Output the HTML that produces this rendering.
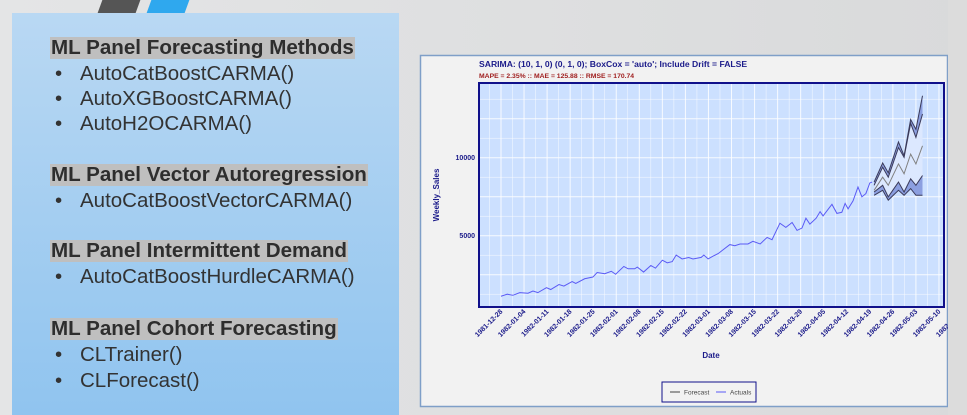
<!DOCTYPE html>
<html><head><meta charset="utf-8"><style>
body{margin:0;width:967px;height:415px;overflow:hidden;background:linear-gradient(90deg,#e4e5e6,#d9dadb);font-family:"Liberation Sans",sans-serif;position:relative}
.panel{position:absolute;left:12px;top:13px;width:387px;height:402px;background:linear-gradient(180deg,#b9d8f3,#90c4ef)}
.h{position:absolute;left:38px;background:#bfbfbf;color:#2e2e2e;font-weight:bold;font-size:20.6px;line-height:22px;padding:0 1px;white-space:nowrap}
.li{position:absolute;left:43px;color:#333;font-size:20.5px;line-height:22px;white-space:nowrap}
.li span{position:absolute;left:25px}
</style></head><body>
<div style="position:absolute;left:100px;top:0;width:38px;height:13px;background:#555;transform:skewX(-20deg)"></div>
<div style="position:absolute;left:149px;top:0;width:38px;height:13px;background:#2fa8ee;transform:skewX(-20deg)"></div>
<div class="panel">
<div class="h" style="top:24px">ML Panel Forecasting Methods</div>
<div class="li" style="top:50px">•<span>AutoCatBoostCARMA()</span></div>
<div class="li" style="top:75px">•<span>AutoXGBoostCARMA()</span></div>
<div class="li" style="top:100px">•<span>AutoH2OCARMA()</span></div>
<div class="h" style="top:151px">ML Panel Vector Autoregression</div>
<div class="li" style="top:177px">•<span>AutoCatBoostVectorCARMA()</span></div>
<div class="h" style="top:227px">ML Panel Intermittent Demand</div>
<div class="li" style="top:253px">•<span>AutoCatBoostHurdleCARMA()</span></div>
<div class="h" style="top:305px">ML Panel Cohort Forecasting</div>
<div class="li" style="top:331px">•<span>CLTrainer()</span></div>
<div class="li" style="top:357px">•<span>CLForecast()</span></div>
</div>
<svg id="chart" style="position:absolute;left:0;top:0" width="967" height="415"></svg>
<script>
const actDays=[0,1.9,3.6,5.7,8.2,9.7,11.2,13.8,15.1,17.6,19.1,21.6,22.7,25.4,27.9,29.2,31.5,33.5,34.8,37.3,38.6,40.6,41.4,43.3,45.5,46.9,49,50.5,52,53.2,55,57,58.3,60.8,61.6,62.9,64.5,66,67.5,69.5,71,72.6,75,76.5,78.7,80.8,82.3,84.7,86.5,88.4,89.9,91.4,92.6,93.8,95.7,96.9,97.8,100.5,102,103.5,104.5,105.4,106.9,108.4,109.6,110.8,112,112.7];
const actVals=[1120,1250,1180,1350,1310,1450,1350,1670,1550,1870,1770,2060,1940,2240,2350,2640,2560,2720,2530,3030,2880,2880,2990,2670,3090,2920,3430,3260,3340,3760,3510,3600,3510,3610,3760,3510,3700,3860,4110,4430,4360,4470,4470,4640,4470,4890,4740,5800,5530,5850,5340,5490,6120,5740,6120,6540,6270,7010,6430,6500,7070,6720,7230,8120,7490,7700,8380,8440];
const fcDays=[113.3,115.9,117.6,120.7,122.4,124.4,126,128];
const fcMean=[7910,8750,8230,9600,8970,10230,9600,10760];
const fcUp95=[8440,9660,9030,11010,10130,12450,11820,13970];
const fcUp80=[8230,9390,8750,10650,10020,12200,11300,12800];
const fcLo80=[7800,8230,7490,8440,7800,8650,8230,8860];
const fcLo95=[7590,7910,7280,7910,7590,8020,7590,7590];
const xTickLabels=["1981-12-28","1982-01-04","1982-01-11","1982-01-18","1982-01-25","1982-02-01","1982-02-08","1982-02-15","1982-02-22","1982-03-01","1982-03-08","1982-03-15","1982-03-22","1982-03-29","1982-04-05","1982-04-12","1982-04-19","1982-04-26","1982-05-03","1982-05-10","1982-05-17"];
const yTicks=[5000,10000];
const yGrid=[2500,5000,7500,10000,12500];

const NS="http://www.w3.org/2000/svg";
const svg=document.getElementById('chart');
const PL=479,PR=944,PT=83,PB=307;
const X=d=>501+d*3.293;
const Y=v=>313.7-v*(78/5000);
const navy="#1b1b8a";
function el(t,a,p){const e=document.createElementNS(NS,t);for(const k in a)e.setAttribute(k,a[k]);(p||svg).appendChild(e);return e;}
function txt(s,a,p){const e=el('text',a,p);e.textContent=s;return e;}
const frame=el('rect',{x:420.5,y:55.5,width:527,height:351,fill:'#f2f2f2',stroke:'#7f9fc8','stroke-width':1.5});


const plot=el('rect',{x:PL,y:PT,width:PR-PL,height:PB-PT,fill:'#cce0ff'});


const g=el('g',{});


for(let d=-7;d<=140;d+=3.5){const x=X(d);if(x>PL&&x<PR){el('line',{x1:x,x2:x,y1:PT,y2:PB,stroke:'#fff','stroke-width':(Math.round(d/3.5)%2===0)?1:0.5,opacity:0.85},g);}}
for(let v=1250;v<15000;v+=1250){const y=Y(v);if(y>PT&&y<PB){el('line',{x1:PL,x2:PR,y1:y,y2:y,stroke:'#fff','stroke-width':yGrid.includes(v)?1:0.5,opacity:0.85},g);}}
function pts(ds,vs){return ds.map((d,i)=>X(d)+','+Y(vs[i])).join(' ');}
function band(up,lo,fill,name){const p=el('polygon',{points:pts(fcDays,up)+' '+pts(fcDays.slice().reverse(),lo.slice().reverse()),fill:fill});}
band(fcUp95,fcLo95,'#8c9fe0','forecast-band-95');
band(fcUp80,fcLo80,'#dce8ff','forecast-band-80');
[[fcUp95,'upper-95-line'],[fcUp80,'upper-80-line'],[fcLo80,'lower-80-line'],[fcLo95,'lower-95-line']].forEach(([arr,n])=>{const l=el('polyline',{points:pts(fcDays,arr),fill:'none',stroke:'#3a3a5a','stroke-width':1});});
const fm=el('polyline',{points:pts(fcDays,fcMean),fill:'none',stroke:'#808080','stroke-width':1});


const al=el('polyline',{points:pts(actDays,actVals),fill:'none',stroke:'#5a5af5','stroke-width':1});


const border=el('rect',{x:PL,y:PT,width:PR-PL,height:PB-PT,fill:'none',stroke:'#10108a','stroke-width':2});


yTicks.forEach(v=>{const t=txt(v,{x:PL-4,y:Y(v)+2.5,'text-anchor':'end','font-size':7,'font-weight':'bold',fill:navy});});
xTickLabels.forEach((s,i)=>{const x=X(i*7);const t=txt(s,{x:x+2,y:PB+5,'text-anchor':'end','font-size':7,'font-weight':'bold',fill:navy,transform:`rotate(-45 ${x+2} ${PB+5})`});});
const cl=el('rect',{x:948,y:0,width:19,height:415,fill:'#dcdcdc'});


const t1=txt("SARIMA: (10, 1, 0) (0, 1, 0); BoxCox = 'auto'; Include Drift = FALSE",{x:479,y:67,'font-size':8.6,'font-weight':'bold',fill:navy});


const t2=txt("MAPE = 2.35% :: MAE = 125.88 :: RMSE = 170.74",{x:479,y:78,'font-size':6.8,'font-weight':'bold',fill:'#a02020'});


const yt=txt("Weekly_Sales",{x:439,y:195,'text-anchor':'middle','font-size':8,'font-weight':'bold',fill:navy,transform:'rotate(-90 439 195)'});


const xt=txt("Date",{x:711,y:358,'text-anchor':'middle','font-size':8,'font-weight':'bold',fill:navy});


const lg=el('g',{});


el('rect',{x:662,y:382,width:94,height:20,fill:'#f2f2f2',stroke:'#10108a','stroke-width':1},lg);
el('line',{x1:670,x2:680,y1:392,y2:392,stroke:'#444'},lg);
const lf=txt("Forecast",{x:684,y:394.5,'font-size':6.5,fill:'#444'},lg);


el('line',{x1:716,x2:726,y1:392,y2:392,stroke:'#5a5af5'},lg);
const la=txt("Actuals",{x:730,y:394.5,'font-size':6.5,fill:'#444'},lg);


</script>
</body></html>
